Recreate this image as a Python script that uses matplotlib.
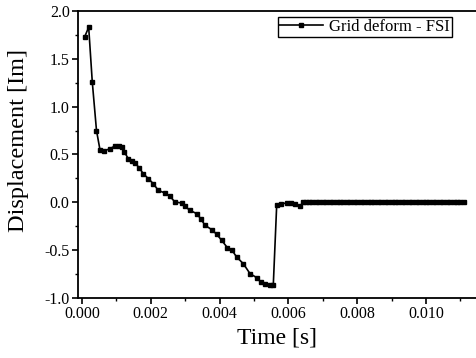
import numpy as np
import matplotlib
matplotlib.use('Agg')
import matplotlib.pyplot as plt
from matplotlib.ticker import MultipleLocator

plt.rcParams['font.family'] = ['Liberation Serif', 'DejaVu Serif']

# transient part
t_head = [0.000078, 0.000195, 0.000299, 0.000422, 0.000523, 0.000654, 0.000814,
          0.000960, 0.001076, 0.001154, 0.001230, 0.001346, 0.001453, 0.001541,
          0.001666, 0.001782, 0.001927, 0.002073, 0.002218, 0.002413, 0.002558,
          0.002703, 0.002898, 0.002994, 0.003140, 0.003334, 0.003450, 0.003576,
          0.003770, 0.003916, 0.004061, 0.004224, 0.004360, 0.004497, 0.004689,
          0.004884, 0.005078, 0.005203, 0.005320, 0.005465, 0.005561, 0.005660,
          0.005785, 0.005950, 0.006076, 0.006192, 0.006337, 0.006433]
d_head = [1.73, 1.83, 1.26, 0.75, 0.55, 0.54, 0.56,
          0.59, 0.585, 0.578, 0.526, 0.457, 0.434, 0.415,
          0.358, 0.30, 0.248, 0.195, 0.125, 0.097, 0.063,
          0.003, -0.007, -0.042, -0.084, -0.118, -0.170, -0.240,
          -0.285, -0.334, -0.397, -0.473, -0.50, -0.572, -0.641,
          -0.745, -0.787, -0.836, -0.857, -0.867, -0.867, -0.031,
          -0.016, -0.007, -0.005, -0.014, -0.042, 0.003]

# settled part
t_tail = [0.0065, 0.0066, 0.0067, 0.0068, 0.0069, 0.0070, 0.0071, 0.0072, 0.0073,
          0.0074, 0.0075, 0.0076, 0.0077, 0.0078, 0.0079, 0.0080, 0.0081, 0.0082,
          0.0083, 0.0084, 0.0085, 0.0086, 0.0087, 0.0088, 0.0089, 0.0090, 0.0091,
          0.0092, 0.0093, 0.0094, 0.0095, 0.0096, 0.0097, 0.0098, 0.0099, 0.0100,
          0.0101, 0.0102, 0.0103, 0.0104, 0.0105, 0.0106, 0.0107, 0.0108, 0.0109,
          0.0110, 0.0111]
d_tail = [0.004, 0.005, 0.005, 0.006, 0.005, 0.006, 0.005, 0.004, 0.005,
          0.006, 0.005, 0.005, 0.004, 0.005, 0.006, 0.005, 0.005, 0.004,
          0.005, 0.005, 0.006, 0.005, 0.004, 0.005, 0.005, 0.006, 0.005,
          0.005, 0.004, 0.005, 0.005, 0.006, 0.005, 0.005, 0.004, 0.005,
          0.005, 0.006, 0.005, 0.005, 0.004, 0.005, 0.005, 0.006, 0.005,
          0.005, 0.006]

t = t_head + t_tail
d = d_head + d_tail

fig = plt.figure(figsize=(4.77, 3.58), dpi=100)
ax = fig.add_axes([0.1635, 0.1676, 0.8365, 0.8017])

ax.plot(t, d, color='black', lw=1.2, marker='s', markersize=2.2,
        label='Grid deform - FSI')

ax.set_xlim(-0.000116, 0.011483)
ax.set_ylim(-1.0, 2.0)
ax.xaxis.set_minor_locator(MultipleLocator(0.001))
ax.yaxis.set_minor_locator(MultipleLocator(0.25))
ax.set_xticks([0, 0.002, 0.004, 0.006, 0.008, 0.010])
ax.set_xticklabels(['0.000', '0.002', '0.004', '0.006', '0.008', '0.010'])
ax.set_yticks([-1.0, -0.5, 0.0, 0.5, 1.0, 1.5, 2.0])
ax.set_yticklabels(['-1.0', '-0.5', '0.0', '0.5', '1.0', '1.5', '2.0'])
ax.tick_params(which='major', direction='out', length=4, width=1.2, labelsize=11.5, pad=2)
ax.tick_params(which='minor', direction='out', length=2.5, width=1)
ax.spines['right'].set_visible(False)
for s in ['left', 'bottom', 'top']:
    ax.spines[s].set_linewidth(1.3)

ax.set_xlabel('Time [s]', fontsize=17, labelpad=4)
ax.set_ylabel('Displacement [Im]', fontsize=17.5)
ax.yaxis.set_label_coords(-0.123, 0.55)

leg = ax.legend(loc='upper right', bbox_to_anchor=(0.945, 0.99), fontsize=12,
                numpoints=1, handlelength=2.6, fancybox=False, framealpha=1,
                borderpad=0.1, handletextpad=0.4, borderaxespad=0.2)
leg.get_frame().set_edgecolor('black')
leg.get_frame().set_linewidth(1.0)

fig.savefig('out.png', dpi=100)
